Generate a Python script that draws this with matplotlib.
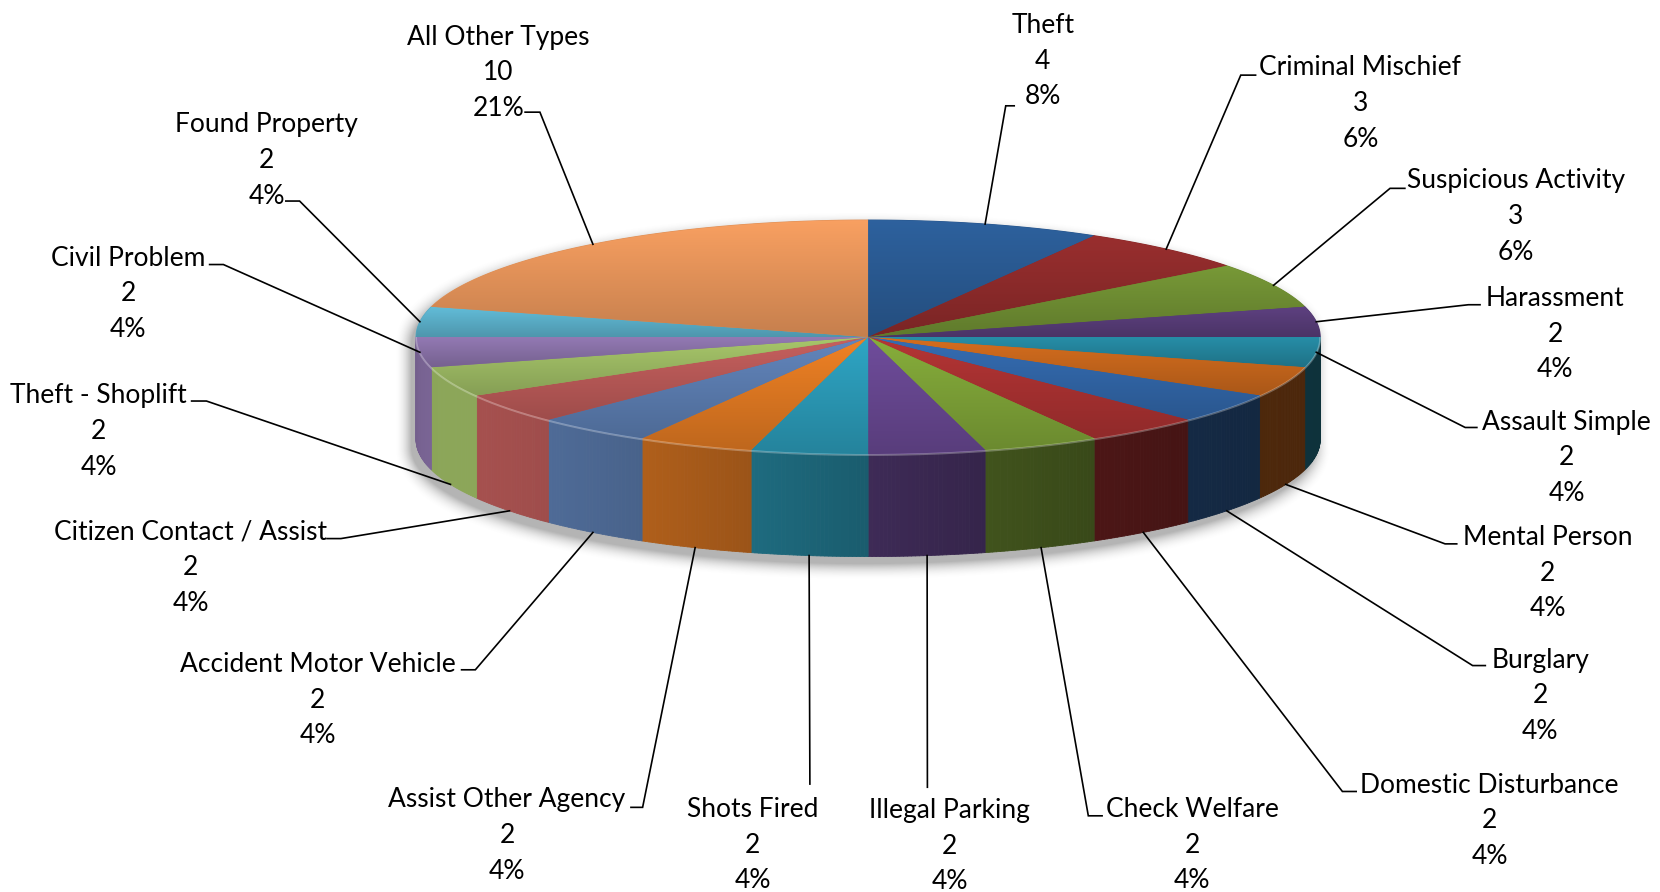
import numpy as np
import matplotlib
matplotlib.use("Agg")
import matplotlib.pyplot as plt
from matplotlib.patches import Polygon
from matplotlib.collections import PolyCollection
from matplotlib.colors import to_rgb

# ---------------- data ----------------
categories = ["Theft", "Criminal Mischief", "Suspicious Activity", "Harassment",
              "Assault Simple", "Mental Person", "Burglary", "Domestic Disturbance",
              "Check Welfare", "Illegal Parking", "Shots Fired", "Assist Other Agency",
              "Accident Motor Vehicle", "Citizen Contact / Assist", "Theft - Shoplift",
              "Civil Problem", "Found Property", "All Other Types"]
counts = [4, 3, 3, 2, 2, 2, 2, 2, 2, 2, 2, 2, 2, 2, 2, 2, 2, 10]
top_colors = ["#2A5A92", "#8E2B2B", "#6F8E33", "#573C77", "#24849C", "#C6661C",
              "#3165A6", "#A83131", "#7DA137", "#674790", "#2B99B6", "#DE7822",
              "#5B7CAF", "#B85957", "#9CB963", "#8971A7", "#5BAFC9", "#E6945A"]

# label layout (x centre, y of first line) in reference pixel space
label_xy = [(985, 24), (1285, 64), (1432, 171), (1469, 282), (1480, 399),
            (1462, 508), (1455, 624), (1407, 742), (1126, 765), (897, 766),
            (711, 765), (479, 756), (300, 628), (180, 503), (93, 374),
            (121, 244), (252, 118), (471, 35)]
# leader elbow (x, y) and end of short horizontal tick
leader_elbow = [(950, 100), (1172, 71), (1313, 178), (1387, 288), (1384, 404),
                (1365, 514), (1391, 629), (1268, 748), (1028, 771), (876, 744),
                (765, 741), (607, 763), (449, 633), (322, 509), (195, 379),
                (211, 250), (283, 190), (510, 106)]
leader_tick = [958, 1186, 1327, 1398, 1395, 1376, 1403, 1281, 1041, 876,
               765, 596, 436, 309, 181, 198, 270, 496]

# ---------------- geometry ----------------
W, H = 1568, 843
CX, CY, A, B, D = 820.0, 318.5, 427.0, 110.5, 97.0

plt.rcParams["font.family"] = ["Lato", "DejaVu Sans"]
fig = plt.figure(figsize=(16.6, 8.92), dpi=100)
ax = fig.add_axes([0, 0, 1, 1])
ax.set_xlim(0, W)
ax.set_ylim(H, 0)
ax.axis("off")

total = float(sum(counts))
bounds = [90.0]
for v in counts:
    bounds.append(bounds[-1] - 360.0 * v / total)


def ell(tdeg, dy=0.0):
    t = np.radians(tdeg)
    return CX + A * np.cos(t), CY - B * np.sin(t) + dy


def light(theta):
    c = (1 + np.cos(np.radians(theta - 205.0))) / 2.0
    return 0.38 + 0.52 * np.clip(c, 0, 1) ** 2.5


# ---- soft shadow ----
xs = np.linspace(340, 1310, 970)
ys = np.linspace(170, 600, 430)
X, Y = np.meshgrid(xs, ys)
sx, sy = -5.0, 7.0
Xr = X - sx - CX
Yc = np.clip(Y - sy, CY, CY + D)
Yr = Y - sy - Yc
r = np.sqrt((Xr / A) ** 2 + (Yr / B) ** 2) + 1e-9
gx = Xr / A ** 2 / r
gy = Yr / B ** 2 / r
dist = (r - 1) / np.sqrt(gx ** 2 + gy ** 2 + 1e-12)
alpha = np.where(dist <= 0, 0.45, 0.45 * np.clip(1 - dist / 16.0, 0, 1) ** 2)
shadow = np.zeros((len(ys), len(xs), 4))
shadow[..., :3] = 0.35
shadow[..., 3] = alpha
ax.imshow(shadow, extent=(xs[0], xs[-1], ys[-1], ys[0]), origin="upper",
          aspect="auto", zorder=1, interpolation="bilinear")

# ---- side walls ----
side_polys, side_cols = [], []
for i in range(len(counts)):
    s, e = bounds[i], bounds[i + 1]
    lo, hi = max(e, -180.0), min(s, 0.0)
    if hi <= lo:
        continue
    n = max(2, int((hi - lo) / 0.5))
    ts = np.linspace(hi, lo, n + 1)
    base = np.array(to_rgb(top_colors[i]))
    for k in range(n):
        t1, t2 = ts[k], ts[k + 1]
        x1, y1 = ell(t1)
        x2, y2 = ell(t2)
        side_polys.append([(x1, y1), (x2, y2), (x2, y2 + D), (x1, y1 + D)])
        f = light(((t1 + t2) / 2.0) % 360)
        side_cols.append(np.clip(base * f, 0, 1))
pc = PolyCollection(side_polys, facecolors=side_cols, edgecolors=side_cols,
                    linewidths=0.6, zorder=2)
ax.add_collection(pc)

# ---- top face ----
for i in range(len(counts)):
    s, e = bounds[i], bounds[i + 1]
    ts = np.linspace(s, e, max(3, int(abs(s - e) * 2)))
    px, py = ell(ts)
    verts = [(CX, CY)] + list(zip(px, py))
    base = np.array(to_rgb(top_colors[i]))
    poly = Polygon(verts, closed=True, facecolor=base * 0.97, edgecolor=base * 0.97,
                   linewidth=0.8, zorder=3)
    ax.add_patch(poly)
    vx = np.array([v[0] for v in verts])
    vy = np.array([v[1] for v in verts])
    y0, y1 = vy.min(), vy.max()
    g = np.linspace(1.08, 0.86, 64)[:, None, None]
    img = np.clip(base[None, None, :] * g, 0, 1)
    im = ax.imshow(img, extent=(vx.min(), vx.max(), y1, y0), origin="upper",
                   aspect="auto", zorder=4, interpolation="bilinear")
    im.set_clip_path(poly)

# bevel highlight on front edge of top face
tt = np.linspace(-180, 0, 400)
hx, hy = ell(tt)
ax.plot(hx, hy + 1, color="white", alpha=0.28, lw=1.4, zorder=5)

ax.set_xlim(0, W)
ax.set_ylim(H, 0)

# ---- labels & leaders ----
FS = 19
LS = 33.7
for i, name in enumerate(categories):
    lx, ly = label_xy[i]
    pct = "{:.0f}%".format(100.0 * counts[i] / total)
    for k, txt in enumerate([name, str(counts[i]), pct]):
        ax.text(lx, ly + k * LS, txt, ha="center", va="center", fontsize=FS,
                color="black", zorder=6)
    mid = (bounds[i] + bounds[i + 1]) / 2.0
    ax_, ay_ = ell(mid)
    if np.sin(np.radians(mid)) < -0.2:
        ay_ += D
    ex, ey = leader_elbow[i]
    ax.plot([ax_, ex, leader_tick[i]], [ay_, ey, ey], color="black", lw=1.2,
            zorder=6, solid_joinstyle="miter")

fig.savefig("out.png", dpi=100, facecolor="white")
